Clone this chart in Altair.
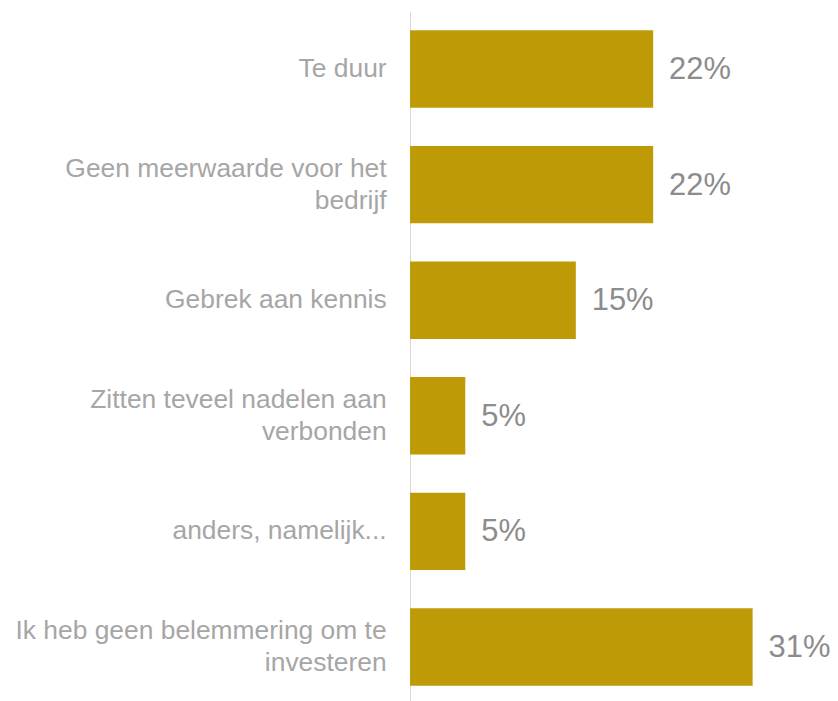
import altair as alt
import pandas as pd

categories = [
    "Te duur",
    "Geen meerwaarde voor het|bedrijf",
    "Gebrek aan kennis",
    "Zitten teveel nadelen aan|verbonden",
    "anders, namelijk...",
    "Ik heb geen belemmering om te|investeren",
]
values = [22, 22, 15, 5, 5, 31]
value_labels = ["22%", "22%", "15%", "5%", "5%", "31%"]

df = pd.DataFrame({"cat": categories, "val": values, "lab": value_labels})

FONT = "Liberation Sans, Arial, sans-serif"

y_enc = alt.Y(
    "cat:N",
    sort=categories,
    scale=alt.Scale(paddingInner=0.33, paddingOuter=0.165),
    axis=alt.Axis(
        title=None,
        ticks=False,
        domain=True,
        domainColor="#D9D9D9",
        domainWidth=1,
        labelExpr="split(datum.label, '|')",
        labelFont=FONT,
        labelFontSize=26.5,
        labelColor="#A6A6A6",
        labelLineHeight=32,
        labelPadding=24,
        labelLimit=420,
        labelAlign="right",
        labelBaseline="middle",
        labelOffset={"condition": {"test": "indexof(datum.label, '|') >= 0", "value": -16}, "value": 0},
        grid=False,
    ),
)
x_enc = alt.X("val:Q", scale=alt.Scale(domain=[0, 38], nice=False), axis=None)

bars = alt.Chart(df).mark_bar(color="#BE9A07").encode(x=x_enc, y=y_enc)
texts = alt.Chart(df).mark_text(
    align="left", baseline="middle", dx=16, dy=1, font=FONT, fontSize=31, color="#8C8C8C"
).encode(x=x_enc, y=alt.Y("cat:N", sort=categories), text="lab:N")

chart = (
    alt.layer(bars, texts)
    .properties(
        width=421.5,
        height=696,
        autosize=alt.AutoSizeParams(type="none"),
        padding={"left": 403.5, "top": 2, "right": 0, "bottom": 0},
    )
    .configure_view(stroke=None)
)

chart.save("out.html", embed_options={"renderer": "svg", "actions": False})
